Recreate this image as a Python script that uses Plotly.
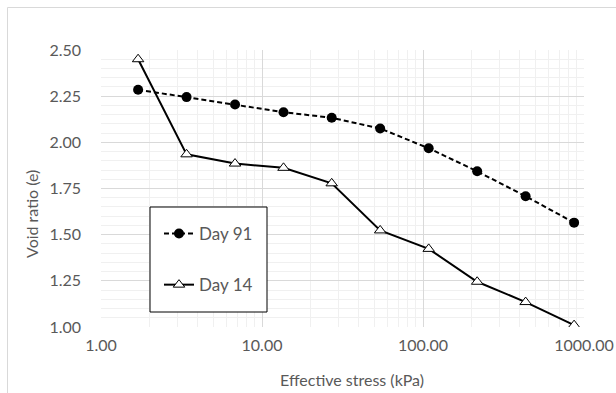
import plotly.graph_objects as go

# Effective stress (kPa) for each loading step
stress = [1.7, 3.4, 6.8, 13.6, 27.1, 54.2, 108.5, 217, 434, 868]

# Void ratio at each step
day91 = [2.285, 2.245, 2.205, 2.163, 2.133, 2.075, 1.968, 1.843, 1.708, 1.565]
day14 = [2.45, 1.935, 1.885, 1.862, 1.778, 1.523, 1.423, 1.245, 1.135, 1.01]

x_ticks = [1, 10, 100, 1000]
x_tick_labels = ["1.00", "10.00", "100.00", "1000.00"]
y_ticks = [1.0, 1.25, 1.5, 1.75, 2.0, 2.25, 2.5]

FONT = "Lato, 'Open Sans', sans-serif"
TEXT = "#595959"

# plot area in pixels, used to place the frame, legend box and titles
L, R, T, B = 101, 584, 50, 327
W, H = R - L, B - T


def px_x(x):
    return (x - L) / W


def px_y(y):
    return (B - y) / H


fig = go.Figure()
fig.add_trace(go.Scatter(
    x=stress, y=day91, name="Day 91", legendgroup="a",
    mode="lines+markers",
    line=dict(color="black", width=2, dash="5px,3px"),
    marker=dict(symbol="circle", size=10, color="black"),
))
fig.add_trace(go.Scatter(
    x=stress, y=day14, name="Day 14", legendgroup="b",
    mode="lines+markers",
    line=dict(color="black", width=2),
    marker=dict(symbol="triangle-up", size=10, color="white",
                line=dict(color="black", width=1)),
))

minor_x = [m * 10 ** d for d in range(3) for m in range(2, 10)]

fig.update_xaxes(
    type="log", range=[0, 3], automargin=False,
    tickvals=x_ticks, ticktext=x_tick_labels,
    showgrid=True, gridcolor="#d9d9d9", gridwidth=1,
    minor=dict(tickvals=minor_x, showgrid=True, gridcolor="#f0f0f0", gridwidth=1),
    zeroline=False, showline=False, ticks="", ticklabelstandoff=7,
    tickfont=dict(family=FONT, size=16, color=TEXT),
)
fig.update_yaxes(
    range=[1.0, 2.5], tickvals=y_ticks, tickformat=".2f", automargin=False,
    showgrid=True, gridcolor="#d9d9d9", gridwidth=1,
    minor=dict(dtick=0.05, showgrid=True, gridcolor="#f0f0f0", gridwidth=1),
    zeroline=False, showline=False, ticks="", ticklabelstandoff=19,
    tickfont=dict(family=FONT, size=16, color=TEXT),
)

# axis titles
fig.add_annotation(text="Effective stress (kPa)", xref="paper", yref="paper",
                   x=px_x(352), y=px_y(379), xanchor="center", yanchor="middle",
                   showarrow=False, font=dict(family=FONT, size=16, color=TEXT))
fig.add_annotation(text="Void ratio (e)", xref="paper", yref="paper",
                   x=px_x(31), y=px_y(214), xanchor="center", yanchor="middle",
                   textangle=-90, showarrow=False,
                   font=dict(family=FONT, size=16, color=TEXT))

# light frame around the chart area
fig.add_shape(type="rect", xref="paper", yref="paper",
              x0=px_x(7.5), x1=px_x(640), y0=px_y(420), y1=px_y(7.5),
              line=dict(color="#d9d9d9", width=1), fillcolor="rgba(0,0,0,0)",
              layer="below")

# legend box
fig.add_shape(type="rect", xref="paper", yref="paper",
              x0=px_x(150), x1=px_x(267), y0=px_y(312), y1=px_y(207),
              line=dict(color="black", width=1), fillcolor="white",
              layer="above")

fig.update_layout(
    width=616, height=393,
    margin=dict(l=L, r=616 - R, t=T, b=393 - B),
    paper_bgcolor="white", plot_bgcolor="white",
    font=dict(family=FONT, color=TEXT),
    showlegend=True,
    legend=dict(
        x=px_x(159), y=px_y(216), xanchor="left", yanchor="top",
        bgcolor="rgba(0,0,0,0)", borderwidth=0,
        font=dict(family=FONT, size=17, color=TEXT),
        tracegroupgap=26, traceorder="grouped",
        itemwidth=30,
    ),
)

fig.write_html("out.html")
